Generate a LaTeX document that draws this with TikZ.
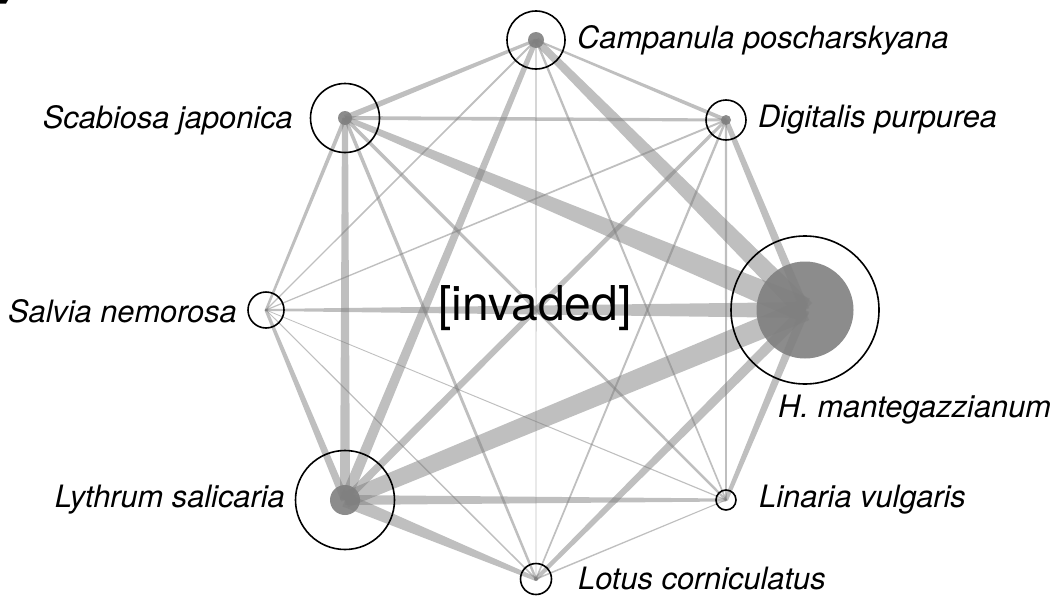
\documentclass[tikz,border=0pt]{standalone}
\usepackage{fontspec}
\setmainfont{TeX Gyre Heros}
\usetikzlibrary{calc}
\newcommand\wedgeedge[4]{\fill[edgefill] ($(#1)!#3!90:(#2)$) -- ($(#1)!#3!-90:(#2)$) -- ($(#2)!#4!90:(#1)$) -- ($(#2)!#4!-90:(#1)$) -- cycle;}
\tikzset{
  edgefill/.style={fill=black!50, fill opacity=0.5},
  disc/.style={circle, fill=black!45, inner sep=0pt, minimum size=#1},
  ring/.style={circle, draw=black, line width=1.6pt, inner sep=0pt, minimum size=#1},
  lab/.style={font=\fontsize{30.8}{36}\selectfont\itshape, inner sep=0pt},
}
\begin{document}
\begin{tikzpicture}[x=1pt,y=-1pt]
\useasboundingbox (0,0) rectangle (1062,597);
\fill[black] (0,0) -- (8,0) -- (6,3.5) -- (0,3.5) -- cycle;
% centres
\coordinate (C)  at (536,40);
\coordinate (D)  at (726,120);
\coordinate (H)  at (805,310);
\coordinate (Li) at (726,500);
\coordinate (Lo) at (536,579);
\coordinate (Ly) at (345,500);
\coordinate (Sa) at (266,310);
\coordinate (Sc) at (345,118);
% inner discs
\node[disc=16pt] (Cd) at (C) {};
\node[disc=10pt] (Dd) at (D) {};
\node[disc=97pt] (Hd) at (H) {};
\node[disc=2pt] (Lid) at (Li) {};
\node[disc=4pt] (Lod) at (Lo) {};
\node[disc=30pt] (Lyd) at (Ly) {};
\node[disc=3pt] (Sad) at (Sa) {};
\node[disc=14pt] (Scd) at (Sc) {};
% edges (half widths: source, target)
\wedgeedge{C}{H}{3.5pt}{10pt}
\wedgeedge{Sc}{H}{2.5pt}{12.5pt}
\wedgeedge{Ly}{H}{8pt}{11pt}
\wedgeedge{Sa}{H}{1pt}{8pt}
\wedgeedge{D}{H}{2.5pt}{4.5pt}
\wedgeedge{Lo}{H}{2pt}{5.5pt}
\wedgeedge{Li}{H}{2pt}{4.5pt}
\wedgeedge{C}{Ly}{2.5pt}{5.5pt}
\wedgeedge{Sc}{Ly}{3pt}{5pt}
\wedgeedge{D}{Ly}{1.5pt}{4pt}
\wedgeedge{Sa}{Ly}{1.5pt}{4pt}
\wedgeedge{Li}{Ly}{1.5pt}{5pt}
\wedgeedge{Lo}{Ly}{2pt}{7pt}
\wedgeedge{C}{Sc}{1.5pt}{3pt}
\wedgeedge{C}{D}{1pt}{2pt}
\wedgeedge{D}{Sc}{1.5pt}{2pt}
\wedgeedge{Lo}{C}{0.4pt}{0.6pt}
\wedgeedge{Li}{C}{0.8pt}{1.2pt}
\wedgeedge{Sa}{C}{0.6pt}{1pt}
\wedgeedge{Sa}{Sc}{1.2pt}{2pt}
\wedgeedge{Lo}{Sc}{1.2pt}{1.8pt}
\wedgeedge{Li}{Sc}{1.2pt}{1.8pt}
\wedgeedge{Sa}{D}{0.6pt}{1pt}
\wedgeedge{Li}{D}{0.8pt}{1.2pt}
\wedgeedge{Lo}{D}{0.8pt}{1.2pt}
\wedgeedge{Sa}{Lo}{0.5pt}{0.8pt}
\wedgeedge{Sa}{Li}{0.4pt}{0.6pt}
\wedgeedge{Li}{Lo}{0.5pt}{0.8pt}
% rings
\node[ring=58pt] (Cr) at (C) {};
\node[ring=40pt] (Dr) at (D) {};
\node[ring=148pt] (Hr) at (H) {};
\node[ring=20pt] (Lir) at (Li) {};
\node[ring=31pt] (Lor) at (Lo) {};
\node[ring=99pt] (Lyr) at (Ly) {};
\node[ring=36pt] (Sar) at (Sa) {};
\node[ring=69pt] (Scr) at (Sc) {};
% labels
\node[lab, anchor=west] (Cl) at (577,40) {Campanula poscharskyana};
\node[lab, anchor=east] (Scl) at (293,120) {Scabiosa japonica};
\node[lab, anchor=west] (Dl) at (758,120) {Digitalis purpurea};
\node[lab, anchor=east] (Sal) at (237,311) {Salvia nemorosa};
\node[lab, anchor=west] (Hl) at (778,410) {H. mantegazzianum};
\node[lab, anchor=east] (Lyl) at (285,500) {Lythrum salicaria};
\node[lab, anchor=west] (Lil) at (759,500) {Linaria vulgaris};
\node[lab, anchor=west] (Lol) at (578,578) {Lotus corniculatus};
\node[font=\fontsize{48}{50}\selectfont, inner sep=0pt] (inv) at (535,308) {[invaded]};
\end{tikzpicture}
\end{document}
